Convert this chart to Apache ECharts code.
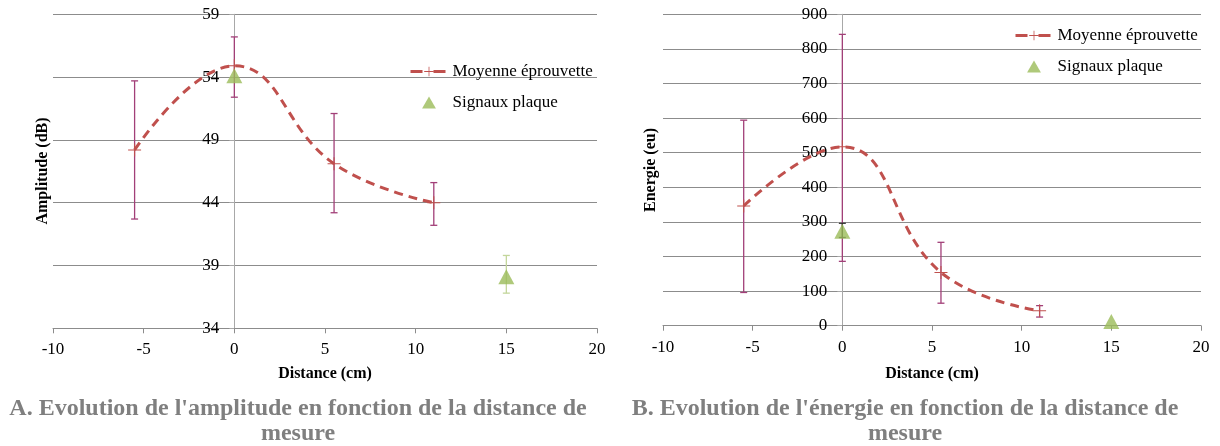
<!DOCTYPE html>
<html><head><meta charset="utf-8">
<script src="https://cdn.jsdelivr.net/npm/echarts@6/dist/echarts.min.js"></script>
<style>html,body{margin:0;padding:0;background:#fff}#c{width:1220px;height:446px}</style>
</head><body><div id="c"></div>
<script>
// ---- data ----
const seriesNames = ['Moyenne éprouvette', 'Signaux plaque'];
const distance = [-5.5, 0, 5.5, 11];
const amplitudeMean = [48.2, 54.9, 47.1, 44.0];
const amplitudeLow = [42.7, 52.4, 43.2, 42.2];
const amplitudeHigh = [53.7, 57.2, 51.1, 45.6];
const plateDistance = [0, 15];
const amplitudePlate = [54.1, 38.1];
const amplitudePlateLow = [null, 36.8];
const amplitudePlateHigh = [null, 39.8];
const energyMean = [346, 517, 154, 43];
const energyLow = [96, 186, 65, 25];
const energyHigh = [594, 842, 241, 58];
const energyPlate = [273, 12];
const energyPlateLow = [255, null];
const energyPlateHigh = [296, null];
const xRange = [-10, 20, 5];
const ampRange = [34, 59, 5];
const energyRange = [0, 900, 100];
const captionA = "A. Evolution de l'amplitude en fonction de la distance de\nmesure";
const captionB = "B. Evolution de l'énergie en fonction de la distance de\nmesure";
const xName = 'Distance (cm)';
const ampName = 'Amplitude (dB)';
const energyName = 'Energie (eu)';

// ---- styling ----
const FONT = '"Liberation Serif", "Times New Roman", serif';
const RED = '#c0504d', GREEN = '#9bbb59', ERR = '#a23f78', ERR_G = '#c3d69b';
const PLUS = 'path://M0,9.2H20V10.8H0Z M9.2,0H10.8V20H9.2Z';
const TRI = 'path://M10,0L20,17.3H0Z';
const grids = [
  { left: 53, top: 14.3, width: 544, height: 314 },
  { left: 663, top: 14.3, width: 538, height: 311.4 }
];

function zip3(xs, lo, hi) {
  const out = [];
  xs.forEach((x, i) => { if (lo[i] != null && hi[i] != null) out.push([x, lo[i], hi[i]]); });
  return out;
}
function errRender(color) {
  return function (params, api) {
    const x = api.value(0);
    const a = api.coord([x, api.value(1)]), b = api.coord([x, api.value(2)]);
    const w = 3.5, st = { stroke: color, lineWidth: 1.3 };
    return { type: 'group', children: [
      { type: 'line', shape: { x1: a[0], y1: a[1], x2: b[0], y2: b[1] }, style: st },
      { type: 'line', shape: { x1: a[0] - w, y1: a[1], x2: a[0] + w, y2: a[1] }, style: st },
      { type: 'line', shape: { x1: b[0] - w, y1: b[1], x2: b[0] + w, y2: b[1] }, style: st }
    ]};
  };
}
function xAxisCfg(gi, gap) {
  return {
    type: 'value', gridIndex: gi, min: xRange[0], max: xRange[1], interval: xRange[2],
    name: xName, nameLocation: 'middle', nameGap: gap,
    nameTextStyle: { fontFamily: FONT, fontSize: 16, fontWeight: 'bold', color: '#000' },
    axisLine: { lineStyle: { color: '#8c8c8c' } },
    axisTick: { length: 5, lineStyle: { color: '#8c8c8c' } },
    axisLabel: { fontFamily: FONT, fontSize: 17, color: '#000', margin: 13 },
    splitLine: { show: false }
  };
}
function yAxisCfg(gi, r) {
  // place the value axis where x = 0 (as in the reference), labels included
  const shift = (0 - xRange[0]) / (xRange[1] - xRange[0]) * grids[gi].width;
  return {
    type: 'value', gridIndex: gi, min: r[0], max: r[1], interval: r[2], offset: -shift,
    axisLine: { show: true, onZero: false, lineStyle: { color: '#a8a8a8' } },
    axisTick: { show: true, length: 5, lineStyle: { color: '#a8a8a8' } },
    axisLabel: { fontFamily: FONT, fontSize: 17, color: '#000', margin: 15 },
    splitLine: { lineStyle: { color: '#8c8c8c', width: 1 } }
  };
}
function meanSeries(gi, ys) {
  return {
    name: seriesNames[0], type: 'line', xAxisIndex: gi, yAxisIndex: gi,
    data: distance.map((x, i) => [x, ys[i]]), smooth: 0.45,
    lineStyle: { color: RED, width: 3, type: [9, 6] },
    symbol: PLUS, symbolSize: 13, itemStyle: { color: RED }, z: 4
  };
}
function plateSeries(gi, ys) {
  return {
    name: seriesNames[1], type: 'scatter', xAxisIndex: gi, yAxisIndex: gi,
    data: plateDistance.map((x, i) => [x, ys[i]]),
    symbol: 'triangle', symbolSize: [16, 15], itemStyle: { color: GREEN }, z: 5
  };
}
function errSeries(gi, xs, lo, hi, color) {
  return {
    type: 'custom', xAxisIndex: gi, yAxisIndex: gi, renderItem: errRender(color),
    data: zip3(xs, lo, hi), z: 3, silent: true
  };
}
function legendCfg(left, top) {
  return {
    data: [{ name: seriesNames[0] }, { name: seriesNames[1], icon: TRI }],
    orient: 'vertical', left: left, top: top, itemWidth: 37, itemHeight: 12, itemGap: 14,
    symbolKeepAspect: true, padding: 0,
    lineStyle: { width: 3, type: [12, 11] },
    textStyle: { fontFamily: FONT, fontSize: 17, color: '#000' }, selectedMode: false
  };
}

const chart = echarts.init(document.getElementById('c'), null, { renderer: 'canvas' });
chart.setOption({
  animation: false,
  backgroundColor: '#fff',
  grid: grids,
  xAxis: [xAxisCfg(0, 38), xAxisCfg(1, 40)],
  yAxis: [yAxisCfg(0, ampRange), yAxisCfg(1, energyRange)],
  legend: [legendCfg(409, 63), legendCfg(1014, 27)],
  series: [
    errSeries(0, distance, amplitudeLow, amplitudeHigh, ERR),
    errSeries(0, plateDistance, amplitudePlateLow, amplitudePlateHigh, ERR_G),
    meanSeries(0, amplitudeMean),
    plateSeries(0, amplitudePlate),
    errSeries(1, distance, energyLow, energyHigh, ERR),
    errSeries(1, plateDistance, energyPlateLow, energyPlateHigh, '#333'),
    meanSeries(1, energyMean),
    plateSeries(1, energyPlate)
  ],
  graphic: [
    { type: 'text', x: 43, y: 171, rotation: Math.PI / 2,
      style: { text: ampName, font: 'bold 16px ' + FONT, fill: '#000', align: 'center', verticalAlign: 'middle' } },
    { type: 'text', x: 651, y: 170, rotation: Math.PI / 2,
      style: { text: energyName, font: 'bold 16px ' + FONT, fill: '#000', align: 'center', verticalAlign: 'middle' } },
    { type: 'text', x: 298, y: 396,
      style: { text: captionA, font: 'bold 24px ' + FONT, fill: '#7f7f7f', align: 'center', verticalAlign: 'top', lineHeight: 25 } },
    { type: 'text', x: 905, y: 396,
      style: { text: captionB, font: 'bold 24px ' + FONT, fill: '#7f7f7f', align: 'center', verticalAlign: 'top', lineHeight: 25 } }
  ]
});
</script></body></html>
